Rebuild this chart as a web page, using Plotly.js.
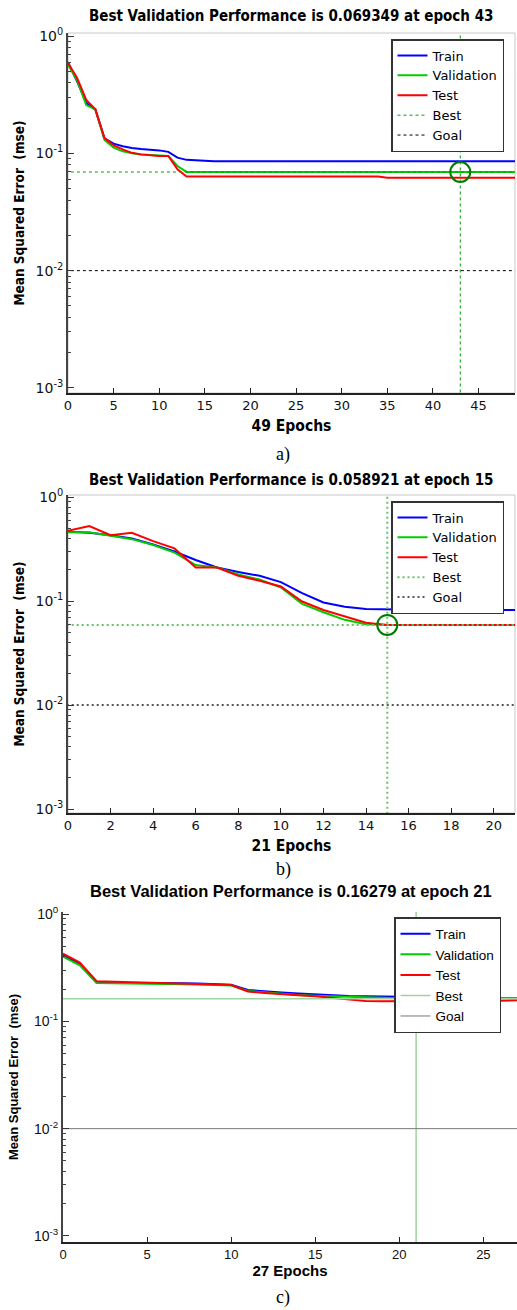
<!DOCTYPE html>
<html>
<head>
<meta charset="utf-8">
<script src="https://cdn.plot.ly/plotly-3.0.1.min.js"></script>
<style>html,body{margin:0;padding:0;background:#fff;}#chart{width:517px;height:1310px;}</style>
</head>
<body>
<div id="chart"></div>
<script>
// ---------- Data ----------
const seriesNames = ['Train', 'Validation', 'Test'];

// Panel a) 49 epochs
const epochsA = Array.from({length: 50}, (_, i) => i);
const trainA = [0.60,0.41,0.27,0.237,0.134,0.121,0.115,0.111,0.109,0.108,0.106,0.103,0.092,0.088,0.087,
  0.0855,0.0855,0.0855,0.0855,0.0855,0.0855,0.0855,0.0855,0.0855,0.0855,0.0855,0.0855,0.0855,0.0855,0.0855,
  0.0855,0.0855,0.0855,0.0855,0.0855,0.0855,0.0855,0.0855,0.0855,0.0855,0.0855,0.0855,0.0855,0.0855,0.0855,
  0.0855,0.0855,0.0855,0.0855,0.0855];
const valA = [0.57,0.42,0.258,0.237,0.13,0.112,0.104,0.100,0.098,0.097,0.096,0.095,0.078,0.0695,0.0694,
  0.0694,0.0694,0.0694,0.0694,0.0694,0.0694,0.0694,0.0694,0.0694,0.0694,0.0694,0.0694,0.0694,0.0694,0.0694,
  0.0694,0.0694,0.0694,0.0694,0.0694,0.0694,0.0694,0.0694,0.0694,0.0694,0.0694,0.0694,0.0694,0.069349,0.0694,
  0.0694,0.0694,0.0694,0.0694,0.0694];
const testA = [0.59,0.44,0.285,0.237,0.135,0.117,0.108,0.101,0.098,0.096,0.095,0.095,0.073,0.0635,0.0635,
  0.0635,0.0635,0.0635,0.0635,0.0635,0.0635,0.0635,0.0635,0.0635,0.0635,0.0635,0.0635,0.0635,0.0635,0.0635,
  0.0635,0.0635,0.0635,0.0635,0.0635,0.062,0.062,0.062,0.062,0.062,0.062,0.062,0.062,0.062,0.062,
  0.062,0.062,0.062,0.062,0.062];
const bestEpochA = 43, bestPerfA = 0.069349;

// Panel b) 21 epochs
const epochsB = Array.from({length: 22}, (_, i) => i);
const trainB = [0.464,0.455,0.43,0.40,0.35,0.30,0.248,0.21,0.19,0.175,0.152,0.119,0.097,0.088,0.084,0.083,0.082,0.082,0.082,0.082,0.082,0.082];
const valB = [0.46,0.46,0.425,0.394,0.346,0.292,0.222,0.21,0.18,0.161,0.135,0.094,0.078,0.066,0.06,0.058921,0.0589,0.0589,0.0589,0.0589,0.0589,0.0589];
const testB = [0.474,0.526,0.43,0.454,0.377,0.321,0.21,0.21,0.175,0.157,0.138,0.099,0.082,0.071,0.062,0.0589,0.0589,0.0589,0.0589,0.0589,0.0589,0.0589];
const bestEpochB = 15, bestPerfB = 0.058921;

// Panel c) 27 epochs
const epochsC = Array.from({length: 28}, (_, i) => i);
const trainC = [0.412,0.345,0.229,0.229,0.229,0.228,0.227,0.226,0.225,0.222,0.219,0.196,0.19,0.186,0.182,0.178,0.176,0.172,0.171,0.17,0.169,0.168,0.167,0.166,0.166,0.165,0.165,0.164];
const valC = [0.40,0.333,0.228,0.227,0.227,0.226,0.225,0.223,0.221,0.218,0.216,0.192,0.186,0.181,0.176,0.173,0.171,0.168,0.167,0.1655,0.164,0.16279,0.163,0.1635,0.164,0.1645,0.165,0.1655];
const testC = [0.428,0.353,0.237,0.235,0.234,0.232,0.23,0.227,0.224,0.221,0.218,0.19,0.184,0.178,0.175,0.171,0.165,0.16,0.155,0.154,0.154,0.154,0.154,0.155,0.155,0.156,0.156,0.157];
const bestEpochC = 21, bestPerfC = 0.16279;

const goalPerf = 0.01;
const yTickVals = [0.001, 0.01, 0.1, 1];
const yTickText = ['10<sup>-3</sup>', '10<sup>-2</sup>', '10<sup>-1</sup>', '10<sup>0</sup>'];
const titles = ['Best Validation Performance is 0.069349 at epoch 43',
                'Best Validation Performance is 0.058921 at epoch 15',
                'Best Validation Performance is 0.16279 at epoch 21'];
const xTitles = ['49 Epochs', '21 Epochs', '27 Epochs'];
const captions = ['a)', 'b)', 'c)'];
const yTitle = 'Mean Squared Error  (mse)';

// ---------- Build ----------
const W = 517, H = 1310;
const colors = ['#0000ff', '#00cc00', '#ff0000'];
const fDV = 'DejaVu Sans, sans-serif';
const fDVC = 'DejaVu Sans Condensed, DejaVu Sans, sans-serif';
const fLib = 'Liberation Sans, Arial, sans-serif';

const minorVals = [];
for (let k = -3; k <= -1; k++) for (let m = 2; m <= 9; m++) minorVals.push(m * Math.pow(10, k));

const panels = [
  {ep: epochsA, data: [trainA, valA, testA], best: [bestEpochA, bestPerfA], xr: [0, 49], dt: 5,
   dom: [[68, 515], [33, 393]], yr: [-3.043, 0.026], font: fDV, tfont: fDVC, yfont: fDVC,
   titleSize: 15, ySize: 13.5, xSize: 15.5, yStand: 8, xStand: 8, legSize: 13,
   bestStyle: {color: '#00a000', dash: '3px,3px', width: 1}, goalStyle: {color: '#000', dash: '3px,3px', width: 1},
   circle: true, leg: [391, 39], box: true},
  {ep: epochsB, data: [trainB, valB, testB], best: [bestEpochB, bestPerfB], xr: [0, 21], dt: 2,
   dom: [[68, 515], [495, 813]], yr: [-3.038, 0.02], font: fDV, tfont: fDVC, yfont: fDVC,
   titleSize: 15, ySize: 13.5, xSize: 15.5, yStand: 8, xStand: 8, legSize: 13,
   bestStyle: {color: '#66c266', dash: '2px,3px', width: 2}, goalStyle: {color: '#555', dash: '2px,3px', width: 2},
   circle: true, leg: [391, 501], box: true},
  {ep: epochsC, data: [trainC, valC, testC], best: [bestEpochC, bestPerfC], xr: [0, 27], dt: 5,
   dom: [[63, 517], [912, 1242]], yr: [-3.056, 0.019], font: fLib, tfont: fLib, yfont: fLib,
   titleSize: 16.5, ySize: 13, xSize: 15, yStand: 12, xStand: 3, legSize: 13.5,
   bestStyle: {color: '#9fd39f', dash: 'solid', width: 1.5}, goalStyle: {color: '#777', dash: 'solid', width: 1},
   circle: false, leg: [394, 917], box: false}
];

const traces = [];
const layout = {
  width: W, height: H, margin: {l: 0, r: 0, t: 0, b: 0},
  paper_bgcolor: '#fff', plot_bgcolor: '#fff', showlegend: true,
  annotations: [], shapes: []
};

panels.forEach((p, i) => {
  const n = i === 0 ? '' : String(i + 1);
  const xa = 'x' + n, ya = 'y' + n, lg = 'legend' + n;
  const yLo = Math.pow(10, p.yr[0] - 0.2), yHi = Math.pow(10, p.yr[1] + 0.2);
  p.data.forEach((arr, s) => {
    traces.push({x: p.ep, y: arr, xaxis: xa, yaxis: ya, legend: lg, name: seriesNames[s],
      type: 'scatter', mode: 'lines', line: {color: colors[s], width: 2}, hoverinfo: 'skip'});
  });
  traces.push({x: [p.best[0], p.best[0]], y: [yLo, yHi], xaxis: xa, yaxis: ya, legend: lg, name: 'Best',
    type: 'scatter', mode: 'lines', line: p.bestStyle, hoverinfo: 'skip'});
  traces.push({x: [p.xr[0] - 1, p.xr[1] + 1], y: [p.best[1], p.best[1]], xaxis: xa, yaxis: ya, legend: lg,
    showlegend: false, type: 'scatter', mode: 'lines', line: p.bestStyle, hoverinfo: 'skip'});
  traces.push({x: [p.xr[0] - 1, p.xr[1] + 1], y: [goalPerf, goalPerf], xaxis: xa, yaxis: ya, legend: lg, name: 'Goal',
    type: 'scatter', mode: 'lines', line: p.goalStyle, hoverinfo: 'skip'});
  if (p.circle) {
    traces.push({x: [p.best[0]], y: [p.best[1]], xaxis: xa, yaxis: ya, showlegend: false,
      type: 'scatter', mode: 'markers', cliponaxis: false,
      marker: {symbol: 'circle-open', size: 20, color: '#007a00', line: {color: '#007a00', width: 2}}, hoverinfo: 'skip'});
  }
  const xd = [p.dom[0][0] / W, p.dom[0][1] / W];
  const yd = [(H - p.dom[1][1]) / H, (H - p.dom[1][0]) / H];
  layout['xaxis' + n] = {
    domain: xd, anchor: ya, range: p.xr, tick0: 0, dtick: p.dt, ticks: 'inside', ticklen: 5,
    tickcolor: '#222', showline: true, linecolor: '#222', linewidth: 1.5, zeroline: false, showgrid: false,
    tickfont: {family: p.font, size: 13, color: '#111'},
    title: {text: xTitles[i], font: {family: p.yfont, size: p.xSize, color: '#000', weight: 'bold'}, standoff: p.xStand}
  };
  layout['yaxis' + n] = {
    domain: yd, anchor: xa, type: 'log', range: p.yr, tickmode: 'array', tickvals: yTickVals, ticktext: yTickText,
    ticks: 'inside', ticklen: 6, tickcolor: '#333', showline: true, linecolor: '#444', linewidth: 2,
    zeroline: false, showgrid: false,
    minor: {tickmode: 'array', tickvals: minorVals, ticks: 'inside', ticklen: 3, tickcolor: '#444', showgrid: false},
    tickfont: {family: p.font, size: 14, color: '#111'},
    title: {text: yTitle, font: {family: p.yfont, size: p.ySize, color: '#000', weight: 'bold'}, standoff: p.yStand}
  };
  layout[lg] = {
    x: p.leg[0] / W, y: (H - p.leg[1]) / H, xanchor: 'left', yanchor: 'top', xref: 'paper', yref: 'paper',
    bgcolor: '#fff', bordercolor: '#333', borderwidth: 1.5,
    font: {family: p.font, size: p.legSize, color: '#000'}, traceorder: 'normal'
  };
  if (p.box) {
    layout.shapes.push({type: 'rect', xref: xa + ' domain', yref: ya + ' domain', x0: 0, x1: 1, y0: 0, y1: 1,
      line: {color: '#c8c8c8', width: 1}, layer: 'below'});
  }
  layout.annotations.push({text: titles[i], xref: 'paper', yref: 'paper', x: 291 / W,
    y: (H - [16, 480, 891][i]) / H, xanchor: 'center', yanchor: 'middle', showarrow: false,
    font: {family: p.tfont, size: p.titleSize, color: '#000', weight: 'bold'}});
  layout.annotations.push({text: captions[i], xref: 'paper', yref: 'paper', x: 283 / W,
    y: (H - [455, 869, 1297][i]) / H, xanchor: 'center', yanchor: 'middle', showarrow: false,
    font: {family: 'Liberation Serif, Times New Roman, serif', size: 18, color: '#000'}});
});

Plotly.newPlot('chart', traces, layout, {staticPlot: true, displayModeBar: false});
</script>
</body>
</html>
